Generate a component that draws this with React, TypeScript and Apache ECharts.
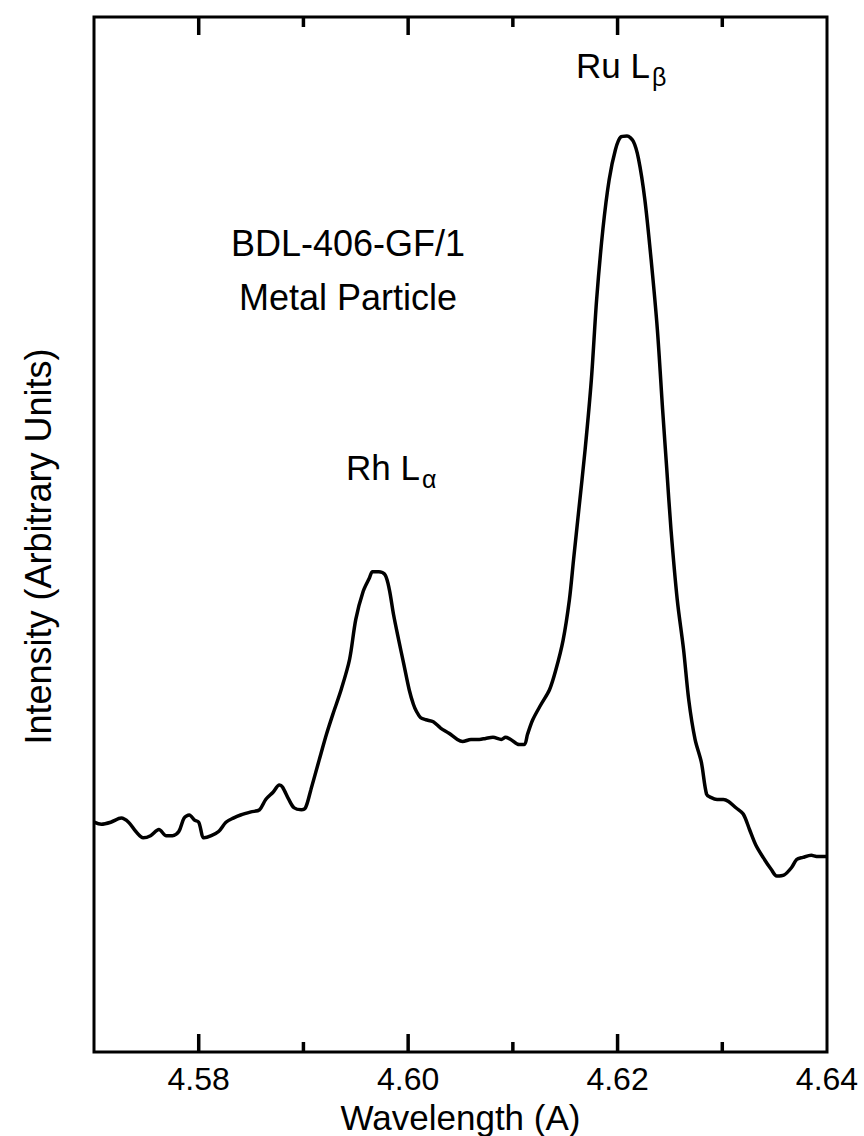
import React, { useEffect, useRef } from "react";
import * as echarts from "echarts";

const wavelength = [
  4.5700, 4.5707, 4.5716, 4.5726, 4.5733, 4.5740, 4.5747, 4.5754, 4.5762, 4.5769,
  4.5775, 4.5781, 4.5786, 4.5791, 4.5796, 4.5800, 4.5805, 4.5812, 4.5819, 4.5826,
  4.5833, 4.5840, 4.5850, 4.5858, 4.5864, 4.5871, 4.5877, 4.5880, 4.5886, 4.5891,
  4.5898, 4.5902, 4.5907, 4.5915, 4.5922, 4.5928, 4.5936, 4.5944, 4.5950, 4.5957,
  4.5963, 4.5966, 4.5972, 4.5978, 4.5982, 4.5986, 4.5991, 4.5996, 4.6001, 4.6005,
  4.6008, 4.6012, 4.6017, 4.6024, 4.6031, 4.6039, 4.6047, 4.6052, 4.6060, 4.6068,
  4.6074, 4.6081, 4.6089, 4.6093, 4.6098, 4.6106, 4.6111, 4.6114, 4.6119, 4.6127,
  4.6135, 4.6141, 4.6148, 4.6154, 4.6158, 4.6163, 4.6169, 4.6175, 4.6180, 4.6186,
  4.6192, 4.6198, 4.6203, 4.6209, 4.6215, 4.6220, 4.6226, 4.6232, 4.6238, 4.6243,
  4.6247, 4.6251, 4.6257, 4.6263, 4.6268, 4.6274, 4.6280, 4.6285, 4.6289, 4.6295,
  4.6301, 4.6306, 4.6313, 4.6320, 4.6326, 4.6332, 4.6339, 4.6347, 4.6352, 4.6359,
  4.6366, 4.6371, 4.6377, 4.6385, 4.6390, 4.6394, 4.6400,
];

const intensity = [
  22.2, 22.0, 22.2, 22.6, 22.2, 21.3, 20.7, 20.9, 21.5, 20.9,
  20.9, 21.3, 22.6, 22.9, 22.4, 22.2, 20.7, 20.9, 21.3, 22.2,
  22.6, 22.9, 23.2, 23.4, 24.4, 25.1, 25.8, 25.6, 24.4, 23.6,
  23.4, 23.6, 25.3, 28.2, 30.7, 32.6, 35.0, 37.9, 41.8, 44.5,
  45.8, 46.4, 46.4, 46.1, 44.7, 42.3, 39.8, 37.4, 35.0, 33.6,
  32.9, 32.3, 32.1, 31.9, 31.3, 30.8, 30.2, 30.0, 30.2, 30.2,
  30.3, 30.4, 30.2, 30.4, 30.2, 29.7, 29.7, 30.7, 32.1, 33.6,
  35.0, 36.9, 39.8, 43.7, 47.6, 52.4, 58.2, 65.0, 72.7, 79.5,
  84.3, 87.2, 88.4, 88.5, 88.0, 86.3, 82.4, 76.6, 69.8, 62.1,
  56.3, 50.5, 43.7, 38.9, 34.0, 30.2, 28.0, 24.9, 24.6, 24.4,
  24.4, 24.2, 23.6, 23.0, 21.5, 20.0, 18.8, 17.6, 17.0, 17.1,
  17.8, 18.6, 18.8, 19.0, 18.9, 18.9, 18.9,
];

const majorTicks = [4.58, 4.6, 4.62];
const minorTicks = [4.59, 4.61, 4.63];
const tickLabels = [4.58, 4.6, 4.62, 4.64];

const FONT = "'Liberation Sans', Arial, Helvetica, sans-serif";

function tickSeries(values: number[], len: number) {
  return {
    type: "custom",
    coordinateSystem: "cartesian2d",
    xAxisIndex: 0,
    yAxisIndex: 0,
    silent: true,
    clip: false,
    z: 5,
    data: values.map((v) => [v, 50]),
    renderItem: (_params: any, api: any) => {
      const x = api.value(0);
      const b = api.coord([x, 0]);
      const t = api.coord([x, 100]);
      const style = { stroke: "#000", lineWidth: 3.5 };
      return {
        type: "group",
        children: [
          { type: "line", shape: { x1: b[0], y1: b[1], x2: b[0], y2: b[1] - len }, style },
          { type: "line", shape: { x1: t[0], y1: t[1], x2: t[0], y2: t[1] + len }, style },
        ],
      };
    },
  };
}

export default function App() {
  const ref = useRef<HTMLDivElement>(null);

  useEffect(() => {
    if (!ref.current) return;
    const chart = echarts.init(ref.current, null, { renderer: "svg" });
    const data = wavelength.map((w, i) => [w, intensity[i]]);
    chart.setOption({
      animation: false,
      backgroundColor: "#ffffff",
      grid: {
        left: 94,
        right: 37,
        top: 17,
        bottom: 84,
        containLabel: false,
        outerBoundsMode: "none",
        show: true,
        borderColor: "#000",
        borderWidth: 3,
        backgroundColor: "transparent",
      },
      xAxis: {
        type: "value",
        min: 4.57,
        max: 4.64,
        position: "bottom",
        name: "Wavelength (A)",
        nameLocation: "middle",
        nameGap: 42,
        nameTextStyle: { fontSize: 35, color: "#000", fontFamily: FONT },
        axisLine: { show: false },
        axisTick: { show: false },
        splitLine: { show: false },
        axisLabel: {
          show: true,
          customValues: tickLabels,
          formatter: (v: number) => v.toFixed(2),
          fontSize: 32,
          color: "#000",
          fontFamily: FONT,
          margin: 11,
        },
      },
      yAxis: {
        type: "value",
        min: 0,
        max: 100,
        name: "Intensity (Arbitrary Units)",
        nameLocation: "middle",
        nameGap: 38,
        nameRotate: 90,
        nameTextStyle: { fontSize: 36, color: "#000", fontFamily: FONT, padding: [0, 24, 0, 0] },
        axisLine: { show: false },
        axisTick: { show: false },
        axisLabel: { show: false },
        splitLine: { show: false },
      },
      series: [
        {
          type: "line",
          data,
          showSymbol: false,
          smooth: 0.3,
          lineStyle: { color: "#000", width: 3.5 },
        },
        tickSeries(majorTicks, 18),
        tickSeries(minorTicks, 10),
      ],
      graphic: [
        { type: "text", x: 348, y: 243, style: { text: "BDL-406-GF/1", font: `36px ${FONT}`, fill: "#000", align: "center", verticalAlign: "middle" } },
        { type: "text", x: 348, y: 297, style: { text: "Metal Particle", font: `36px ${FONT}`, fill: "#000", align: "center", verticalAlign: "middle" } },
        { type: "text", x: 650, y: 65, style: { text: "Ru L", font: `35px ${FONT}`, fill: "#000", align: "right", verticalAlign: "middle" } },
        { type: "text", x: 652, y: 77, style: { text: "β", font: `25px ${FONT}`, fill: "#000", align: "left", verticalAlign: "middle" } },
        { type: "text", x: 420, y: 467, style: { text: "Rh L", font: `35px ${FONT}`, fill: "#000", align: "right", verticalAlign: "middle" } },
        { type: "text", x: 422, y: 479, style: { text: "α", font: `25px ${FONT}`, fill: "#000", align: "left", verticalAlign: "middle" } },
      ],
    });
    return () => chart.dispose();
  }, []);

  return (
    <div
      ref={ref}
      style={{ position: "fixed", left: 0, top: 0, width: 864, height: 1136, background: "#fff" }}
    />
  );
}
